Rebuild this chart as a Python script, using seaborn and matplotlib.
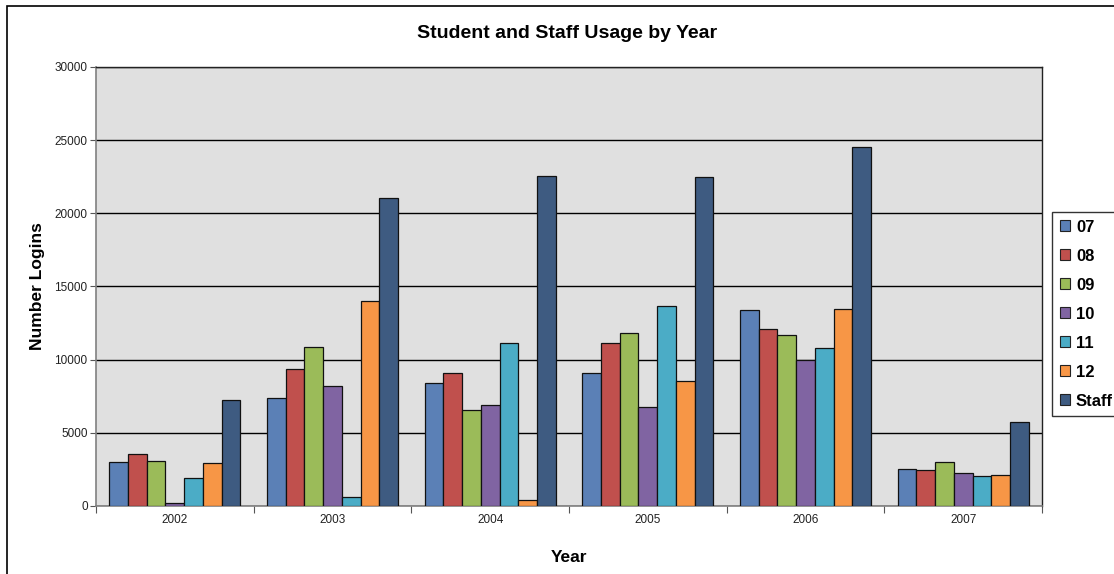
import matplotlib
matplotlib.use("Agg")
import matplotlib.pyplot as plt
import seaborn as sns
import pandas as pd
import numpy as np
from matplotlib.patches import Rectangle

years = ["2002", "2003", "2004", "2005", "2006", "2007"]
groups = ["07", "08", "09", "10", "11", "12", "Staff"]
v07 = [3000, 7400, 8400, 9100, 13370, 2500]
v08 = [3550, 9360, 9090, 11160, 12120, 2440]
v09 = [3050, 10840, 6580, 11800, 11710, 3000]
v10 = [230, 8180, 6900, 6770, 10000, 2280]
v11 = [1890, 640, 11160, 13670, 10770, 2030]
v12 = [2920, 13990, 410, 8560, 13440, 2140]
vstaff = [7220, 21070, 22550, 22460, 24510, 5740]
colors = ["#5b80b6", "#c0504d", "#9bbb59", "#8064a2", "#4bacc6", "#f79646", "#3e5b81"]

series = [v07, v08, v09, v10, v11, v12, vstaff]
rows = []
for g, vals in zip(groups, series):
    for y, v in zip(years, vals):
        rows.append({"Year": y, "Group": g, "Logins": v})
df = pd.DataFrame(rows)

sns.set_theme(style="white")
plt.rcParams["font.family"] = ["Liberation Sans", "DejaVu Sans"]
plt.rcParams["text.color"] = "black"
plt.rcParams["axes.labelcolor"] = "black"

fig = plt.figure(figsize=(11.14, 5.74), dpi=100)
ax = fig.add_axes([96/1114, 68/574, 946/1114, 439/574])
ax.set_facecolor("#e0e0e0")

sns.barplot(data=df, x="Year", y="Logins", hue="Group", order=years, hue_order=groups,
            palette=dict(zip(groups, colors)), saturation=1, edgecolor="#111111", linewidth=0.9,
            width=0.83, errorbar=None, ax=ax, legend=False, zorder=3)

ax.set_ylim(0, 30000)
ax.set_xlim(-0.5, 5.5)
ax.set_yticks(np.arange(0, 30001, 5000))
ax.yaxis.grid(True, color="#000000", linewidth=1.0, zorder=0)
ax.set_axisbelow(True)
ax.tick_params(axis="y", which="major", direction="out", length=4, width=0.8, color="#555555",
               labelsize=8.5, labelcolor="#222222", pad=2, left=True)
ax.tick_params(axis="x", which="major", length=0, labelsize=8.5, labelcolor="#222222", pad=6)
ax.set_xticks(np.arange(-0.5, 6.0, 1.0), minor=True)
ax.tick_params(axis="x", which="minor", direction="out", length=5, width=0.8, color="#555555", bottom=True)
for s in ["left", "bottom"]:
    ax.spines[s].set_color("#808080")
    ax.spines[s].set_linewidth(1.2)
for s in ["top", "right"]:
    ax.spines[s].set_color("#222222")
    ax.spines[s].set_linewidth(1.0)

ax.set_xlabel("Year", fontsize=12.5, fontweight="bold", labelpad=17, color="black")
ax.set_ylabel("Number Logins", fontsize=12.5, fontweight="bold", labelpad=7, color="black")
fig.text(0.509, 1 - 33/574, "Student and Staff Usage by Year", fontsize=14, fontweight="bold",
         ha="center", va="center", color="black")

handles = [Rectangle((0, 0), 1, 1, facecolor=c, edgecolor="#222222", linewidth=0.8) for c in colors]
leg = fig.legend(handles, groups, loc="upper left", bbox_to_anchor=(1052/1114, 1 - 212/574),
                 frameon=True, fancybox=False, edgecolor="#000000", prop={"weight": "bold", "size": 12},
                 handlelength=0.64, handleheight=0.64, handletextpad=0.35, labelspacing=0.84,
                 borderpad=0.45, borderaxespad=0)
leg.get_frame().set_linewidth(1.0)
for t in leg.get_texts():
    t.set_color("black")

fig.patches.append(Rectangle((7/1114, -0.1), 1.2, 1 - 6/574 + 0.1, transform=fig.transFigure,
                             fill=False, edgecolor="#000000", linewidth=1.2, zorder=0))

fig.savefig("out.png", dpi=100, facecolor="white")
